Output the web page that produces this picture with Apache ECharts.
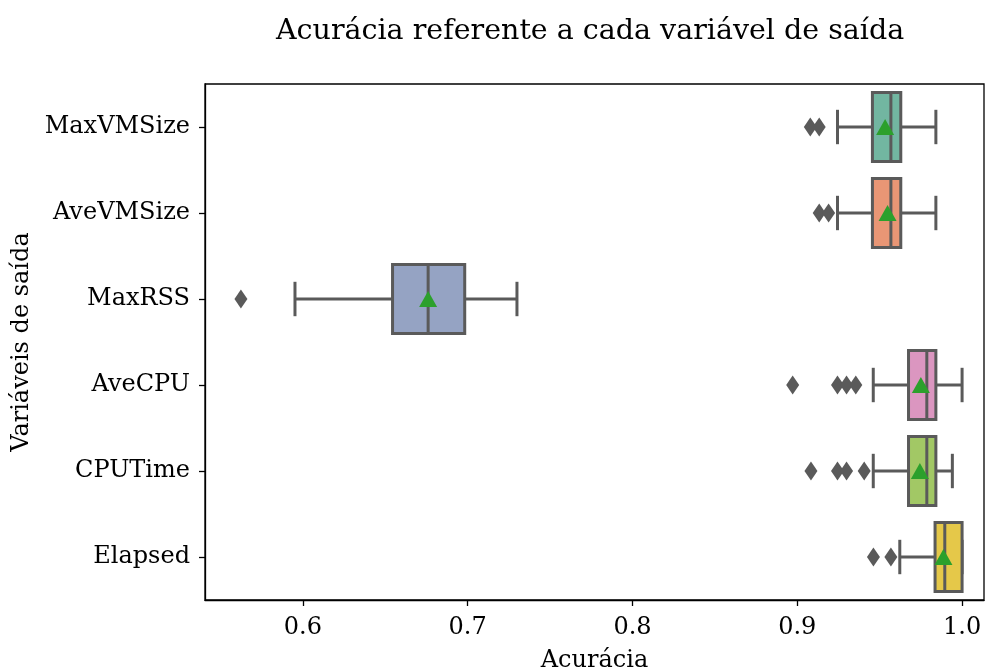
<!DOCTYPE html>
<html>
<head>
<meta charset="utf-8">
<script src="https://cdn.jsdelivr.net/npm/echarts@6/dist/echarts.min.js"></script>
<style>
  html, body { margin: 0; padding: 0; background: #fff; }
  #chart { width: 985px; height: 668px; }
</style>
</head>
<body>
<div id="chart"></div>
<script>
var categories = ['MaxVMSize', 'AveVMSize', 'MaxRSS', 'AveCPU', 'CPUTime', 'Elapsed'];
// [min whisker, Q1, median, Q3, max whisker]
var boxValues = [
    [0.9244, 0.9456, 0.9568, 0.9628, 0.9841],
    [0.9244, 0.9456, 0.9568, 0.9628, 0.9841],
    [0.5952, 0.6544, 0.6760, 0.6982, 0.7299],
    [0.9461, 0.9675, 0.9786, 0.9841, 1.0000],
    [0.9461, 0.9675, 0.9786, 0.9841, 0.9941],
    [0.9622, 0.9836, 0.9895, 1.0000, 1.0000]
];
var means = [0.9533, 0.9548, 0.6760, 0.9750, 0.9744, 0.9887];
var outliers = [
    [0.9079, 0.9133],
    [0.9133, 0.9190],
    [0.5624],
    [0.8972, 0.9244, 0.9299, 0.9355],
    [0.9083, 0.9244, 0.9299, 0.9406],
    [0.9462, 0.9568]
];
var xTicks = [0.6, 0.7, 0.8, 0.9, 1.0];
var colors = ['#72b6a1', '#e99675', '#95a3c3', '#db96c0', '#a2c865', '#e5c849'];

var font = 'DejaVu Serif';
var edge = '#5a5a5a';

// custom box items: [category index, lo, q1, median, q3, hi]
var boxData = boxValues.map(function (v, i) {
    return [i].concat(v);
});
var outlierData = [];
outliers.forEach(function (list, i) {
    list.forEach(function (v) { outlierData.push([v, categories[i]]); });
});
var meanData = means.map(function (v, i) { return [v, categories[i]]; });

function renderBox(params, api) {
    var idx = api.value(0);
    var lo = api.coord([api.value(1), idx]);
    var q1 = api.coord([api.value(2), idx]);
    var med = api.coord([api.value(3), idx]);
    var q3 = api.coord([api.value(4), idx]);
    var hi = api.coord([api.value(5), idx]);
    var band = api.size([0, 1])[1];
    var h = band * 0.8;
    var cy = lo[1];
    var line = { stroke: edge, lineWidth: 3 };
    return {
        type: 'group',
        children: [
            { type: 'line', shape: { x1: lo[0], y1: cy, x2: q1[0], y2: cy }, style: line },
            { type: 'line', shape: { x1: q3[0], y1: cy, x2: hi[0], y2: cy }, style: line },
            { type: 'line', shape: { x1: lo[0], y1: cy - h / 4, x2: lo[0], y2: cy + h / 4 }, style: line },
            { type: 'line', shape: { x1: hi[0], y1: cy - h / 4, x2: hi[0], y2: cy + h / 4 }, style: line },
            {
                type: 'rect',
                shape: { x: q1[0], y: cy - h / 2, width: q3[0] - q1[0], height: h },
                style: { fill: colors[idx], stroke: edge, lineWidth: 3 }
            },
            { type: 'line', shape: { x1: med[0], y1: cy - h / 2, x2: med[0], y2: cy + h / 2 }, style: line }
        ]
    };
}

var option = {
    backgroundColor: '#fff',
    animation: false,
    title: {
        text: 'Acurácia referente a cada variável de saída',
        left: 271,
        top: 12,
        textStyle: { fontFamily: font, fontSize: 28.5, fontWeight: 'normal', color: '#000' }
    },
    grid: {
        left: 205, right: 1, top: 84, bottom: 68,
        outerBoundsMode: 'none',
        show: true, borderColor: '#000', borderWidth: 1.3
    },
    xAxis: {
        type: 'value',
        min: 0.5406,
        max: 1.0133,
        name: 'Acurácia',
        nameLocation: 'middle',
        nameGap: 49,
        nameTextStyle: { fontFamily: font, fontSize: 24, color: '#000' },
        axisLine: { show: true, lineStyle: { color: '#000', width: 1.3 } },
        axisTick: { show: true, length: 6, customValues: xTicks, lineStyle: { color: '#000', width: 1.3 } },
        axisLabel: {
            customValues: xTicks,
            fontFamily: font, fontSize: 24, color: '#000', margin: 16,
            formatter: function (v) { return v.toFixed(1); }
        },
        splitLine: { show: false }
    },
    yAxis: {
        type: 'category',
        data: categories,
        inverse: true,
        name: 'Variáveis de saída',
        nameLocation: 'middle',
        nameRotate: 90,
        nameGap: 167,
        nameTextStyle: { fontFamily: font, fontSize: 24, color: '#000' },
        axisLine: { show: true, lineStyle: { color: '#000', width: 1.3 } },
        axisTick: { show: true, alignWithLabel: true, length: 6, lineStyle: { color: '#000', width: 1.3 } },
        axisLabel: { fontFamily: font, fontSize: 24, color: '#000', margin: 15 },
        splitLine: { show: false }
    },
    series: [
        {
            type: 'custom',
            data: boxData,
            encode: { x: [1, 2, 3, 4, 5], y: 0 },
            renderItem: renderBox,
            z: 2
        },
        {
            type: 'scatter',
            data: outlierData,
            symbol: 'diamond',
            symbolSize: [13, 19],
            itemStyle: { color: edge, opacity: 1 },
            z: 3
        },
        {
            type: 'scatter',
            data: meanData,
            symbol: 'triangle',
            symbolSize: [18, 16],
            itemStyle: { color: '#2ca02c', opacity: 1 },
            z: 4
        }
    ]
};

var chart = echarts.init(document.getElementById('chart'));
chart.setOption(option);
</script>
</body>
</html>
